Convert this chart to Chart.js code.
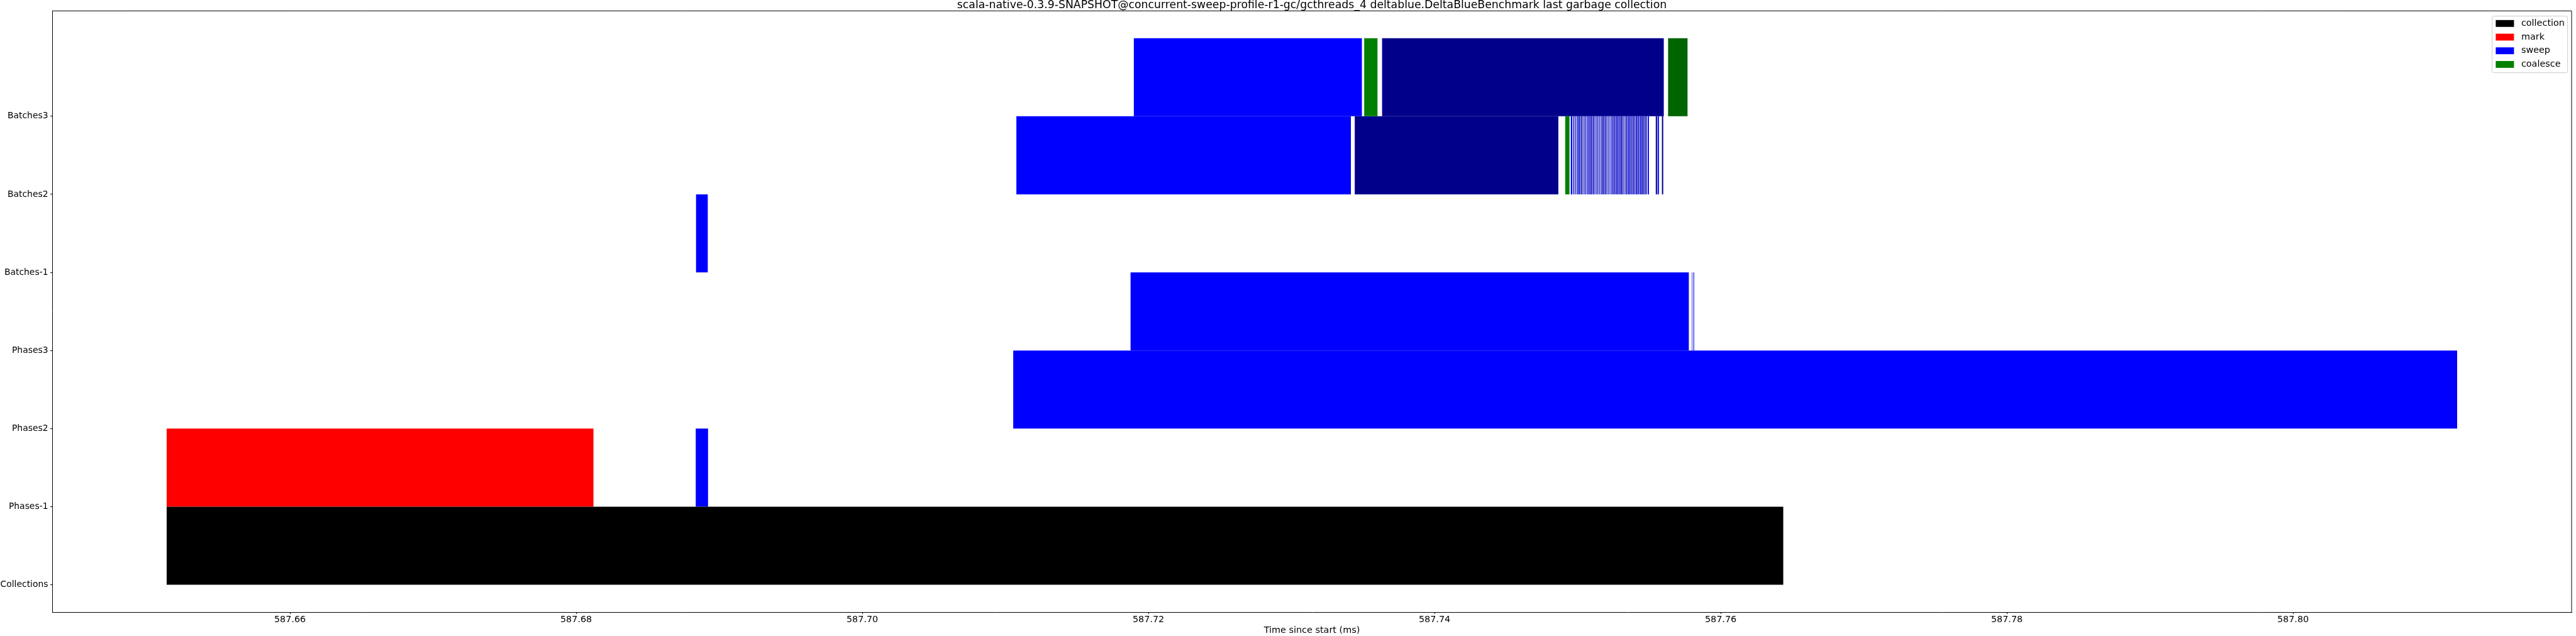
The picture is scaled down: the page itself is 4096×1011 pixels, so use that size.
<!DOCTYPE html>
<html>
<head>
<meta charset="utf-8">
<title>last garbage collection</title>
<script src="https://cdn.jsdelivr.net/npm/chart.js@4.4.1/dist/chart.umd.min.js"></script>
<style>
  html, body { margin: 0; padding: 0; background: #fff; }
  canvas { display: block; }
</style>
</head>
<body>
<canvas id="chart" width="4096" height="1011"></canvas>
<script>
// rows of the timeline, bottom to top
const rowLabels = ['Collections', 'Phases-1', 'Phases2', 'Phases3', 'Batches-1', 'Batches2', 'Batches3'];
const xTickValues = [587.66, 587.68, 587.70, 587.72, 587.74, 587.76, 587.78, 587.80];
const xMin = 587.64338;
const xMax = 587.81947;

// [row, start ms, end ms]
const collectionBars = [[0, 587.65138, 587.76437]];
const markBars = [[1, 587.65138, 587.68121]];
const sweepBars = [
    [1, 587.68836, 587.68922],
    [2, 587.71055, 587.81147],
    [3, 587.71875, 587.75777],
    [3, 587.75809, 587.75814],
    [4, 587.68838, 587.68920],
    [5, 587.71077, 587.73415],
    [5, 587.74952, 587.74963], [5, 587.74984, 587.74991], [5, 587.75011, 587.75020],
    [5, 587.75041, 587.75048], [5, 587.75068, 587.75077], [5, 587.75095, 587.75104],
    [5, 587.75125, 587.75132], [5, 587.75152, 587.75159], [5, 587.75179, 587.75188],
    [5, 587.75209, 587.75216], [5, 587.75236, 587.75245], [5, 587.75264, 587.75273],
    [5, 587.75291, 587.75300], [5, 587.75320, 587.75327], [5, 587.75348, 587.75357],
    [5, 587.75375, 587.75384], [5, 587.75404, 587.75414], [5, 587.75432, 587.75441],
    [5, 587.75459, 587.75468], [5, 587.75489, 587.75498], [5, 587.75559, 587.75568],
    [6, 587.71898, 587.73492]
];
// every other sweep batch is drawn darker
const sweepAltBars = [
    [3, 587.75798, 587.75801],
    [5, 587.73442, 587.74865],
    [5, 587.74970, 587.74977], [5, 587.74998, 587.75007], [5, 587.75025, 587.75034],
    [5, 587.75054, 587.75061], [5, 587.75082, 587.75091], [5, 587.75109, 587.75118],
    [5, 587.75138, 587.75145], [5, 587.75166, 587.75175], [5, 587.75193, 587.75202],
    [5, 587.75223, 587.75229], [5, 587.75250, 587.75259], [5, 587.75277, 587.75286],
    [5, 587.75304, 587.75314], [5, 587.75334, 587.75343], [5, 587.75361, 587.75370],
    [5, 587.75389, 587.75398], [5, 587.75418, 587.75427], [5, 587.75445, 587.75455],
    [5, 587.75473, 587.75482], [5, 587.75546, 587.75555], [5, 587.75589, 587.75598],
    [6, 587.73633, 587.75602]
];
const coalesceBars = [[5, 587.74913, 587.74943], [6, 587.73508, 587.73601]];
const coalesceAltBars = [[6, 587.75632, 587.75768]];

const font = 'DejaVu Sans';
Chart.defaults.font.family = font;
Chart.defaults.color = '#000';

function toSet(label, bars, colour, inLegend) {
    return {
        label: label,
        inLegend: inLegend,
        data: bars.map(b => ({ y: b[0] + 0.5, x: [b[1], b[2]] })),
        backgroundColor: colour,
        borderWidth: 0,
        grouped: false,
        categoryPercentage: 1,
        barPercentage: 1,
        inflateAmount: 0
    };
}

// frame on top/right and the legend inside the axes
const framePlugin = {
    id: 'frameAndLegend',
    afterDraw(chart) {
        const ctx = chart.ctx;
        const a = chart.chartArea;
        ctx.save();
        ctx.strokeStyle = '#000';
        ctx.lineWidth = 1;
        ctx.beginPath();
        ctx.moveTo(a.left, a.top);
        ctx.lineTo(a.right, a.top);
        ctx.lineTo(a.right, a.bottom);
        ctx.stroke();

        const items = chart.data.datasets.filter(d => d.inLegend);
        const boxW = 120, boxH = 90;
        const x0 = a.right - 6.3 - boxW;
        const y0 = a.top + 8.3;
        ctx.beginPath();
        ctx.roundRect(x0, y0, boxW, boxH, 2.5);
        ctx.fillStyle = 'rgba(255,255,255,0.8)';
        ctx.fill();
        ctx.strokeStyle = '#cccccc';
        ctx.stroke();
        ctx.font = '14.4px "' + font + '"';
        ctx.textBaseline = 'middle';
        ctx.textAlign = 'left';
        items.forEach((d, i) => {
            const cy = y0 + 11.7 + i * 21.7;
            ctx.fillStyle = d.backgroundColor;
            ctx.fillRect(x0 + 5.7, cy - 5.45, 29, 10.9);
            ctx.fillStyle = '#000';
            ctx.fillText(d.label, x0 + 46.2, cy);
        });
        ctx.restore();
    }
};

const ctx = document.getElementById('chart').getContext('2d');
const myChart = new Chart(ctx, {
    type: 'bar',
    data: {
        datasets: [
            toSet('collection', collectionBars, '#000000', true),
            toSet('mark', markBars, '#ff0000', true),
            toSet('sweep', sweepBars, '#0000ff', true),
            toSet('coalesce', coalesceBars, '#008000', true),
            toSet('sweep (alt)', sweepAltBars, '#00008b', false),
            toSet('coalesce (alt)', coalesceAltBars, '#006400', false)
        ]
    },
    options: {
        responsive: false,
        animation: false,
        devicePixelRatio: 1,
        indexAxis: 'y',
        layout: { padding: { left: 0, right: 7, top: 0, bottom: 0 } },
        plugins: {
            legend: { display: false },
            tooltip: { enabled: false },
            title: {
                display: true,
                fullSize: false,
                text: 'scala-native-0.3.9-SNAPSHOT@concurrent-sweep-profile-r1-gc/gcthreads_4 deltablue.DeltaBlueBenchmark last garbage collection',
                color: '#000',
                font: { family: font, size: 17.3, weight: 'normal', lineHeight: 1 },
                padding: { top: 0, bottom: 0 }
            }
        },
        scales: {
            x: {
                type: 'linear',
                min: xMin,
                max: xMax,
                grid: { drawOnChartArea: false, drawTicks: true, tickLength: 3, tickColor: '#000', tickWidth: 1 },
                border: { display: true, color: '#000', width: 1 },
                afterBuildTicks: (scale) => {
                    scale.ticks = xTickValues.map(v => ({ value: v }));
                },
                afterFit: (scale) => { scale.height = 38; },
                ticks: {
                    autoSkip: false,
                    maxRotation: 0,
                    padding: 1,
                    color: '#000',
                    font: { size: 14.4 },
                    callback: (v) => Number(v).toFixed(2)
                },
                title: {
                    display: true,
                    text: 'Time since start (ms)',
                    color: '#000',
                    font: { size: 14.4 },
                    padding: { top: 0, bottom: 0 }
                }
            },
            y: {
                type: 'linear',
                min: -0.35,
                max: 7.35,
                offset: false,
                grid: { offset: false, drawOnChartArea: false, drawTicks: true, tickLength: 3, tickColor: '#000', tickWidth: 1 },
                border: { display: true, color: '#000', width: 1 },
                afterBuildTicks: (scale) => {
                    scale.ticks = rowLabels.map((_, i) => ({ value: i }));
                },
                afterFit: (scale) => { scale.width = 83; },
                ticks: {
                    autoSkip: false,
                    padding: 3.5,
                    color: '#000',
                    font: { size: 13.9 },
                    callback: (v) => rowLabels[v]
                }
            }
        }
    },
    plugins: [framePlugin]
});
</script>
</body>
</html>
